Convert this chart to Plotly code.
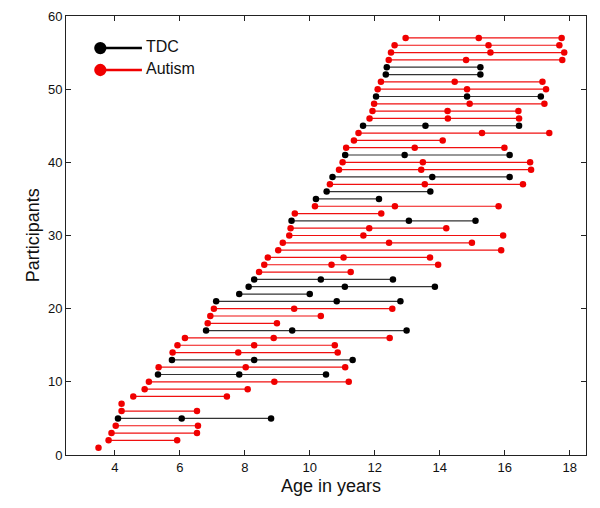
"""Longitudinal scan ages per participant, TDC vs Autism."""

import plotly.graph_objects as go

# one row per participant (1..57), ages at each visit in years
participant = list(range(1, 58))
group = [
    "A", "A", "A", "A", "T", "A", "A", "A", "A", "A",
    "T", "A", "T", "A", "A", "A", "T", "A", "A", "A",
    "T", "T", "T", "T", "A", "A", "A", "A", "A", "A",
    "A", "T", "A", "A", "T", "T", "A", "T", "A", "A",
    "T", "A", "A", "A", "T", "A", "A", "A", "T", "A",
    "A", "T", "T", "A", "A", "A", "A",
]
visit1 = [
    3.50, 3.81, 3.90, 4.03, 4.10, 4.21, 4.21, 4.57, 4.92, 5.05,
    5.33, 5.35, 5.76, 5.78, 5.93, 6.16, 6.81, 6.86, 6.94, 7.05,
    7.12, 7.83, 8.12, 8.29, 8.44, 8.60, 8.71, 9.03, 9.17, 9.37,
    9.41, 9.44, 9.54, 10.16, 10.19, 10.52, 10.62, 10.70, 10.90, 11.01,
    11.09, 11.12, 11.36, 11.50, 11.64, 11.84, 11.93, 11.98, 12.04, 12.09,
    12.19, 12.34, 12.37, 12.43, 12.50, 12.61, 12.95,
]
visit2 = [
    None, 5.92, 6.53, 6.56, 6.06, 6.53, None, 7.45, 8.09, 8.91,
    7.83, 8.03, 8.29, 7.80, 8.29, 8.89, 9.46, 8.99, 10.34, 9.52,
    10.83, 10.00, 11.08, 10.34, 11.26, 10.67, 11.04, 15.89, 12.44, 11.65,
    11.83, 13.05, 12.20, 12.62, 12.13, 13.71, 13.54, 13.77, 13.43, 13.48,
    12.92, 13.23, 14.09, 15.30, 13.56, 14.25, 14.24, 14.92, 14.84, 14.84,
    14.46, 15.25, 15.25, 14.81, 15.56, 15.50, 15.20,
]
visit3 = [
    None, None, None, None, 8.81, None, None, None, None, 11.20,
    10.50, 11.09, 11.32, 10.86, 10.77, 12.46, 12.98, None, None, 12.54,
    12.79, None, 13.85, 12.56, None, 13.95, 13.70, None, 14.99, 15.95,
    14.20, 15.10, None, 15.81, None, None, 16.56, 16.15, 16.81, 16.78,
    16.15, 15.99, None, 17.37, 16.44, 16.44, 16.42, 17.22, 17.11, 17.27,
    17.16, None, None, 17.77, 17.83, 17.68, 17.75,
]

group_names = {"T": "TDC", "A": "Autism"}
group_colors = {"T": "#000000", "A": "#f00000"}
line_colors = {"T": "#333333", "A": "#f01010"}

fig = go.Figure()

for g in ["T", "A"]:
    xs, ys = [], []
    for n, grp, a1, a2, a3 in zip(participant, group, visit1, visit2, visit3):
        if grp != g:
            continue
        ages = [a for a in (a1, a2, a3) if a is not None]
        xs.extend(ages + [None])
        ys.extend([n] * len(ages) + [None])
    fig.add_trace(go.Scatter(
        x=xs, y=ys,
        mode="lines+markers",
        line=dict(color=line_colors[g], width=1.2),
        marker=dict(color=group_colors[g], size=6.5),
        name=group_names[g],
        showlegend=False,
        hoverinfo="x+y",
    ))

# MATLAB-style legend drawn by hand (dot at the left end of the line)
shapes = []
annotations = []
for i, g in enumerate(["T", "A"]):
    yc = 0.927 - i * 0.05
    shapes.append(dict(
        type="line", xref="paper", yref="paper",
        x0=0.066, x1=0.146, y0=yc, y1=yc,
        line=dict(color=group_colors[g], width=2.5),
    ))
    shapes.append(dict(
        type="circle", xref="paper", yref="paper",
        x0=0.066 - 0.0118, x1=0.066 + 0.0118,
        y0=yc - 0.0140, y1=yc + 0.0140,
        fillcolor=group_colors[g], line=dict(width=0),
    ))
    annotations.append(dict(
        text=group_names[g], xref="paper", yref="paper",
        x=0.15, y=yc + 0.004, xanchor="left", yanchor="middle",
        showarrow=False, font=dict(size=16, color="#111"),
    ))

# axis titles as annotations so the plot box keeps its exact place
annotations.append(dict(
    text="Age in years", xref="paper", yref="paper",
    x=0.51, y=-0.07, xanchor="center", yanchor="middle",
    showarrow=False, font=dict(size=18, color="#111"),
))
annotations.append(dict(
    text="Participants", xref="paper", yref="paper",
    x=-0.064, y=0.5, xanchor="center", yanchor="middle", textangle=-90,
    showarrow=False, font=dict(size=18, color="#111"),
))

axis_common = dict(
    showgrid=False, zeroline=False, automargin=False,
    showline=True, linecolor="#222", linewidth=1,
    mirror="ticks", ticks="inside", ticklen=5, tickcolor="#222",
    tickfont=dict(size=13, color="#111"),
)

# the page body adds an 8px offset, margins below allow for it
fig.update_layout(
    width=600, height=508,
    margin=dict(l=58, r=22, t=8, b=61),
    paper_bgcolor="white", plot_bgcolor="white",
    font=dict(family="Liberation Sans, Arial, sans-serif"),
    showlegend=False,
    shapes=shapes,
    annotations=annotations,
    xaxis=dict(
        range=[2.5, 18.5], tickvals=[4, 6, 8, 10, 12, 14, 16, 18],
        **axis_common,
    ),
    yaxis=dict(
        range=[0, 60], tickvals=[0, 10, 20, 30, 40, 50, 60],
        **axis_common,
    ),
)

fig.write_html("out.html")
